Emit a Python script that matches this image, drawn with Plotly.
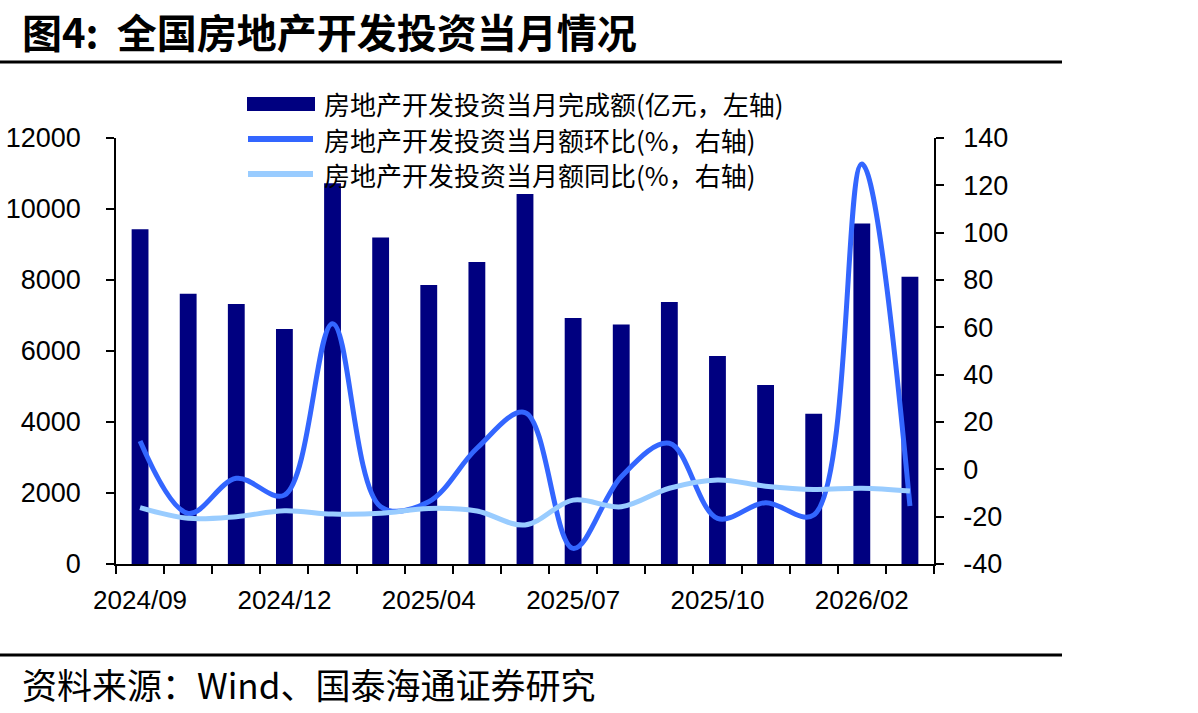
import plotly.graph_objects as go

categories = ["2024/09", "2024/10", "2024/11", "2024/12", "2025/02", "2025/03",
              "2025/04", "2025/05", "2025/06", "2025/07", "2025/08", "2025/09",
              "2025/10", "2025/11", "2025/12", "2026/02", "2026/03"]
invest = [9430, 7615, 7325, 6620, 10725, 9195, 7860, 8505, 10420, 6930,
          6745, 7380, 5860, 5045, 4235, 9590, 8090]
mom = [12.0, -18.6, -3.8, -10.9, 61.5, -15.8, -13.7, 8.9, 24.0, -33.4,
       -3.1, 11.0, -20.7, -14.1, -19.3, 129.0, -15.5]
yoy = [-16.2, -20.7, -20.0, -17.5, -18.9, -18.6, -16.5, -17.6, -23.5, -13.0,
       -15.8, -8.0, -4.5, -7.1, -8.5, -8.0, -9.2]
left_ticks = [0, 2000, 4000, 6000, 8000, 10000, 12000]
right_ticks = [-40, -20, 0, 20, 40, 60, 80, 100, 120, 140]
name_bar = "房地产开发投资当月完成额(亿元，左轴)"
name_mom = "房地产开发投资当月额环比(%，右轴)"
name_yoy = "房地产开发投资当月额同比(%，右轴)"

x = list(range(len(categories)))
label_idx = x[::3]

CJK = "Noto Sans CJK SC"
NUM = "Arial, Liberation Sans, sans-serif"
C_BAR, C_MOM, C_YOY = "#000080", "#3366FF", "#99CCFF"

# plot area in pixels: x 116..934, y 138..564
L, R, T, B = 116, 934, 138, 564
def px(v):
    return (v - L) / (R - L)
def py(v):
    return (B - v) / (B - T)

fig = go.Figure()
fig.add_trace(go.Bar(x=x, y=invest, name=name_bar, marker_color=C_BAR,
                     marker_line_width=0, width=0.35, yaxis="y"))
fig.add_trace(go.Scatter(x=x, y=mom, name=name_mom, mode="lines",
                         line=dict(color=C_MOM, width=5, shape="spline", smoothing=1.0),
                         yaxis="y2"))
fig.add_trace(go.Scatter(x=x, y=yoy, name=name_yoy, mode="lines",
                         line=dict(color=C_YOY, width=5, shape="spline", smoothing=1.0),
                         yaxis="y2"))

# custom legend (symbols + labels)
leg_rows = [(name_bar, C_BAR, "bar", 104), (name_mom, C_MOM, "line", 139),
            (name_yoy, C_YOY, "line", 174)]
shapes = [
    dict(type="line", xref="paper", yref="paper", x0=px(0), x1=px(1062),
         y0=py(62), y1=py(62), line=dict(color="black", width=3)),
    dict(type="line", xref="paper", yref="paper", x0=px(0), x1=px(1062),
         y0=py(655), y1=py(655), line=dict(color="black", width=3)),
]
annotations = []
for name, col, kind, yy in leg_rows:
    if kind == "bar":
        shapes.append(dict(type="rect", xref="paper", yref="paper", x0=px(247), x1=px(315),
                           y0=py(111), y1=py(97), fillcolor=col, line=dict(width=0)))
    else:
        shapes.append(dict(type="line", xref="paper", yref="paper", x0=px(248), x1=px(313),
                           y0=py(yy), y1=py(yy), line=dict(color=col, width=6)))
    annotations.append(dict(text=name, xref="paper", yref="paper", x=px(322), y=py(yy),
                            xanchor="left", yanchor="middle", showarrow=False,
                            font=dict(family=CJK, size=26, color="black")))

annotations += [
    dict(text="<b>图4:  全国房地产开发投资当月情况</b>", xref="paper", yref="paper",
         x=px(20), y=py(31), xanchor="left", yanchor="middle", showarrow=False,
         font=dict(family=CJK, size=40, color="black")),
    dict(text="资料来源：Wind、国泰海通证券研究", xref="paper", yref="paper",
         x=px(20), y=py(683), xanchor="left", yanchor="middle", showarrow=False,
         font=dict(family=CJK, size=35, color="black")),
]

fig.update_layout(
    width=1198, height=713, autosize=False,
    margin=dict(l=L, r=1198 - R, t=T, b=713 - B, autoexpand=False),
    paper_bgcolor="white", plot_bgcolor="white",
    showlegend=False,
    xaxis=dict(range=[-0.5, 16.5], showgrid=False, zeroline=False, automargin=False,
               showline=True, linecolor="black", linewidth=1.5,
               tickmode="array", tickvals=[x[i] for i in label_idx],
               ticktext=[categories[i] for i in label_idx],
               ticks="", ticklabelstandoff=12,
               tickfont=dict(family=NUM, size=26, color="black"),
               minor=dict(tickmode="linear", tick0=-0.5, dtick=1, ticks="outside",
                          ticklen=8, tickwidth=1.5, tickcolor="black", showgrid=False)),
    yaxis=dict(range=[0, 12000], tickmode="array", tickvals=left_ticks,
               ticktext=[str(v) for v in left_ticks], automargin=False,
               showgrid=False, zeroline=False, showline=True, linecolor="black",
               linewidth=1.5, ticks="outside", ticklen=8, tickwidth=1.5, tickcolor="black",
               ticklabelstandoff=20,
               tickfont=dict(family=NUM, size=27, color="black")),
    yaxis2=dict(range=[-40, 140], tickmode="array", tickvals=right_ticks,
                ticktext=[str(v) for v in right_ticks], overlaying="y", automargin=False,
                side="right", showgrid=False, zeroline=False, showline=True,
                linecolor="black", linewidth=1.5, ticks="outside", ticklen=8,
                tickwidth=1.5, tickcolor="black", ticklabelstandoff=14,
                tickfont=dict(family=NUM, size=27, color="black")),
    shapes=shapes,
    annotations=annotations,
)

fig.write_html("out.html")
